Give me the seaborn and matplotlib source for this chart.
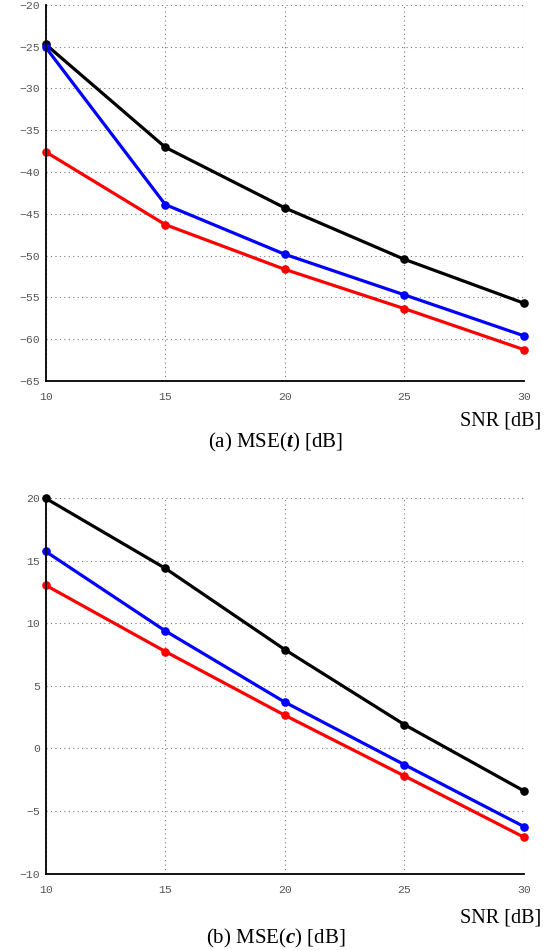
import numpy as np
import pandas as pd
import matplotlib
matplotlib.use("Agg")
import matplotlib.pyplot as plt
import seaborn as sns

# SNR grid shared by both panels
snr = [10, 15, 20, 25, 30]

# MSE(t) in dB
mse_t_black = [-24.75, -37.05, -44.3, -50.45, -55.7]
mse_t_blue = [-25.1, -43.9, -49.85, -54.7, -59.6]
mse_t_red = [-37.6, -46.3, -51.65, -56.35, -61.25]

# MSE(c) in dB
mse_c_black = [20.0, 14.4, 7.9, 1.9, -3.4]
mse_c_blue = [15.75, 9.4, 3.7, -1.3, -6.25]
mse_c_red = [13.05, 7.75, 2.65, -2.2, -7.1]

series_names = ["black", "blue", "red"]
series_colors = {"black": "#000000", "blue": "#0000ff", "red": "#ff0000"}


def long_table(black, blue, red):
    rows = []
    for name, vals in zip(series_names, [black, blue, red]):
        for x, y in zip(snr, vals):
            rows.append({"SNR": x, "MSE": y, "series": name})
    return pd.DataFrame(rows)


sns.set_theme(style="white")
plt.rcParams["mathtext.fontset"] = "custom"
plt.rcParams["mathtext.rm"] = "Liberation Serif"
plt.rcParams["mathtext.bf"] = "Liberation Serif:italic:bold"

W, H = 559, 951
fig = plt.figure(figsize=(W / 100, H / 100), dpi=100)
left, right = 45.7 / W, 524.0 / W

ax_a = fig.add_axes([left, 1 - 381.0 / H, right - left, (381.0 - 4.7) / H])
ax_b = fig.add_axes([left, 1 - 873.5 / H, right - left, (873.5 - 498.3) / H])

# (axes, data, y-range, y-ticks, caption, pixel offsets below the axes for title and caption)
panels = [
    (ax_a, long_table(mse_t_black, mse_t_blue, mse_t_red), (-65, -20), np.arange(-65, -19, 5),
     "(a) MSE($\\mathbf{t}$) [dB]", 40, 61),
    (ax_b, long_table(mse_c_black, mse_c_blue, mse_c_red), (-10, 20), np.arange(-10, 21, 5),
     "(b) MSE($\\mathbf{c}$) [dB]", 44, 65),
]

tick_font = {"family": "Liberation Mono", "size": 8.2}

for ax, df, ylim, yticks, caption, off_lbl, off_cap in panels:
    sns.lineplot(data=df, x="SNR", y="MSE", hue="series", hue_order=series_names,
                 palette=series_colors, marker="o", markersize=6.2, markeredgewidth=0,
                 linewidth=2.3, legend=False, ax=ax, clip_on=False, zorder=3)
    ax.set_xlim(10, 30)
    ax.set_ylim(*ylim)
    ax.set_xticks(snr)
    ax.set_yticks(yticks)
    ax.set_xticklabels([str(v) for v in snr], fontdict=tick_font)
    ax.set_yticklabels([str(v).replace("-", "\u2212") for v in yticks], fontdict=tick_font)
    ax.set_xlabel("")
    ax.set_ylabel("")
    ax.grid(True, linestyle=(0, (1, 3)), color="#777777", linewidth=0.8)
    ax.set_axisbelow(True)
    for side in ["top", "right"]:
        ax.spines[side].set_visible(False)
    for side in ["left", "bottom"]:
        ax.spines[side].set_color("black")
        ax.spines[side].set_linewidth(1.3)
        ax.spines[side].set_zorder(4)
    ax.tick_params(axis="y", direction="in", length=3, width=0.8, pad=4, colors="black",
                   labelcolor="#555555")
    ax.tick_params(axis="x", direction="in", length=3, width=0.8, pad=8, colors="black",
                   labelcolor="#555555")

    # axis title and caption below each panel
    h_px = H * ax.get_position().height
    w_px = W * ax.get_position().width
    ax.text(1.0 + 17 / w_px, -off_lbl / h_px, "SNR [dB]", transform=ax.transAxes,
            ha="right", va="center", family="Liberation Serif", fontsize=14.5, color="black")
    ax.text(0.5 - 9 / w_px, -off_cap / h_px, caption, transform=ax.transAxes,
            ha="center", va="center", family="Liberation Serif", fontsize=15, color="black")

fig.savefig("out.png", dpi=100, facecolor="white")
